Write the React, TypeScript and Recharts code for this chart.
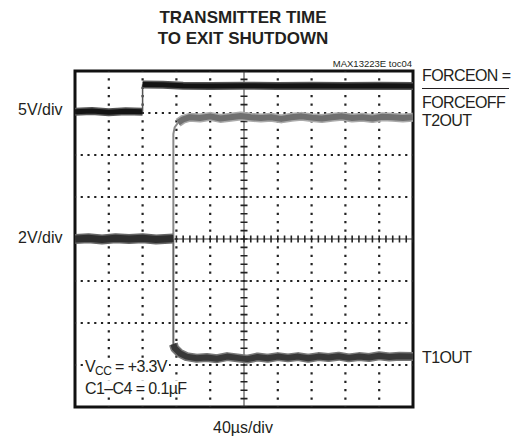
import React from "react";
import { LineChart, Line, XAxis, YAxis, ReferenceLine, ReferenceArea } from "recharts";

// scope screen is 10 x 8 divisions, values are in divisions (0 = centre line)
const X_DIVS = [0, 10];
const Y_DIVS = [-4, 4];
const xGrid = [1, 2, 3, 4, 6, 7, 8, 9];
const yGrid = [-3, -2, -1, 1, 2, 3];

// FORCEON = FORCEOFF (5V/div)
const forceLow = [
  { x: 0, y: 3.03 }, { x: 0.5, y: 3.05 }, { x: 1.0, y: 3.02 }, { x: 1.5, y: 3.04 }, { x: 2.0, y: 3.03 },
];
const forceEdge = [{ x: 2.0, y: 3.03 }, { x: 2.0, y: 3.68 }];
const forceHigh = [
  { x: 2.0, y: 3.68 }, { x: 2.6, y: 3.67 }, { x: 3.2, y: 3.65 }, { x: 4.0, y: 3.64 }, { x: 5.0, y: 3.65 },
  { x: 6.0, y: 3.64 }, { x: 7.0, y: 3.65 }, { x: 8.0, y: 3.64 }, { x: 9.0, y: 3.65 }, { x: 10, y: 3.64 },
];

// T1OUT / T2OUT (2V/div), both sit on the centre line before enabling
const shutdownLow = [
  { x: 0, y: 0.0 }, { x: 0.4, y: 0.02 }, { x: 0.8, y: -0.01 }, { x: 1.2, y: 0.02 }, { x: 1.6, y: 0.0 },
  { x: 2.0, y: 0.02 }, { x: 2.4, y: -0.01 }, { x: 2.91, y: 0.01 },
];
const t2Edge = [{ x: 2.91, y: 0 }, { x: 2.91, y: 2.5 }, { x: 2.95, y: 2.66 }, { x: 3.05, y: 2.77 }];
const t2High = [
  { x: 3.05, y: 2.77 }, { x: 3.2, y: 2.85 }, { x: 3.4, y: 2.9 }, { x: 3.7, y: 2.88 }, { x: 4.0, y: 2.92 },
  { x: 4.3, y: 2.87 }, { x: 4.6, y: 2.9 }, { x: 4.9, y: 2.93 }, { x: 5.2, y: 2.9 }, { x: 5.5, y: 2.88 },
  { x: 5.8, y: 2.9 }, { x: 6.1, y: 2.86 }, { x: 6.4, y: 2.9 }, { x: 6.7, y: 2.92 }, { x: 7.0, y: 2.89 },
  { x: 7.3, y: 2.87 }, { x: 7.6, y: 2.9 }, { x: 7.9, y: 2.92 }, { x: 8.2, y: 2.88 }, { x: 8.5, y: 2.9 },
  { x: 8.8, y: 2.87 }, { x: 9.1, y: 2.91 }, { x: 9.4, y: 2.9 }, { x: 9.7, y: 2.88 }, { x: 10, y: 2.9 },
];
const t1Edge = [{ x: 2.91, y: 0 }, { x: 2.91, y: -2.5 }];
const t1Low = [
  { x: 2.91, y: -2.5 }, { x: 2.95, y: -2.6 }, { x: 3.1, y: -2.72 }, { x: 3.3, y: -2.8 }, { x: 3.6, y: -2.84 },
  { x: 3.9, y: -2.82 }, { x: 4.2, y: -2.85 }, { x: 4.5, y: -2.8 }, { x: 4.8, y: -2.83 }, { x: 5.1, y: -2.86 },
  { x: 5.4, y: -2.81 }, { x: 5.7, y: -2.84 }, { x: 6.0, y: -2.8 }, { x: 6.3, y: -2.83 }, { x: 6.6, y: -2.8 },
  { x: 6.9, y: -2.84 }, { x: 7.2, y: -2.8 }, { x: 7.5, y: -2.82 }, { x: 7.8, y: -2.79 }, { x: 8.1, y: -2.83 },
  { x: 8.4, y: -2.8 }, { x: 8.7, y: -2.82 }, { x: 9.0, y: -2.78 }, { x: 9.3, y: -2.81 }, { x: 9.6, y: -2.79 },
  { x: 10, y: -2.8 },
];

const FONT = '"Liberation Sans", Arial, sans-serif';

function Txt({ x, y, size = 16, bold = false, children, style }: any) {
  // y is the vertical centre of the capitals
  return (
    <div
      style={{
        position: "absolute",
        left: x,
        top: y - size / 2,
        fontSize: size,
        lineHeight: `${size}px`,
        fontWeight: bold ? 700 : 400,
        whiteSpace: "nowrap",
        color: "#231f20",
        ...style,
      }}
    >
      {children}
    </div>
  );
}

export default function App() {
  const trace = (data: any[], color: string, width: number, key: string) => (
    <Line
      key={key}
      data={data}
      dataKey="y"
      type="linear"
      stroke={color}
      strokeWidth={width}
      strokeLinejoin="round"
      dot={false}
      activeDot={false}
      isAnimationActive={false}
    />
  );

  return (
    <div style={{ position: "absolute", left: 0, top: 0, width: 519, height: 440, background: "#fff", fontFamily: FONT }}>
      <LineChart width={519} height={440} margin={{ top: 71, left: 75, right: 106, bottom: 33 }}>
        <XAxis dataKey="x" type="number" domain={X_DIVS} hide allowDataOverflow />
        <YAxis dataKey="y" type="number" domain={Y_DIVS} hide allowDataOverflow />

        {/* dotted graticule */}
        {xGrid.map((v) => (
          <ReferenceLine key={"gx" + v} x={v} stroke="#222" strokeWidth={2.2} strokeDasharray="2.2 6.2" strokeDashoffset={1.1} />
        ))}
        {yGrid.map((v) => (
          <ReferenceLine key={"gy" + v} y={v} stroke="#222" strokeWidth={2.2} strokeDasharray="2.2 4.56" strokeDashoffset={1.1} />
        ))}
        {/* centre axes with minor ticks */}
        <ReferenceLine x={5} stroke="#333" strokeWidth={1} />
        <ReferenceLine x={5} stroke="#222" strokeWidth={7} strokeDasharray="1.6 6.8" strokeDashoffset={0.8} />
        <ReferenceLine y={0} stroke="#333" strokeWidth={1} />
        <ReferenceLine y={0} stroke="#222" strokeWidth={7} strokeDasharray="1.6 5.16" strokeDashoffset={0.8} />

        {/* soft noise halo under each trace, then the trace core */}
        {trace(forceLow, "#555", 8, "flh")}
        {trace(forceLow, "#141414", 5, "fl")}
        {trace(forceEdge, "#555", 1.5, "fe")}
        {trace(forceHigh, "#555", 8, "fhh")}
        {trace(forceHigh, "#141414", 5, "fh")}
        {trace(t2Edge, "#8a8a8a", 2, "t2e")}
        {trace(t2High, "#aaa", 9, "t2hh")}
        {trace(t2High, "#707070", 6, "t2h")}
        {trace(t1Edge, "#666", 2, "t1e")}
        {trace(t1Low, "#777", 9, "t1lh")}
        {trace(t1Low, "#383838", 6, "t1l")}
        {trace(shutdownLow, "#666", 10, "slh")}
        {trace(shutdownLow, "#2e2e2e", 7, "sl")}

        <ReferenceArea x1={0} x2={10} y1={-4} y2={4} fill="none" stroke="#111" strokeWidth={3} />
      </LineChart>

      {/* titles */}
      <div style={{ position: "absolute", left: 93, top: 9, width: 300, textAlign: "center", fontSize: 17, lineHeight: "17px", fontWeight: 700, color: "#231f20" }}>
        TRANSMITTER TIME
      </div>
      <div style={{ position: "absolute", left: 93, top: 30, width: 300, textAlign: "center", fontSize: 17, lineHeight: "17px", fontWeight: 700, color: "#231f20" }}>
        TO EXIT SHUTDOWN
      </div>
      <div style={{ position: "absolute", left: 262, top: 59, width: 150, textAlign: "right", fontSize: 9.5, lineHeight: "10px", color: "#231f20" }}>
        MAX13223E toc04
      </div>

      {/* channel scales */}
      <Txt x={18} y={110}>5V/div</Txt>
      <Txt x={18} y={238}>2V/div</Txt>
      <Txt x={213} y={428}>40µs/div</Txt>

      {/* trace names */}
      <Txt x={422} y={76} style={{ letterSpacing: -0.6 }}>FORCEON =</Txt>
      <div style={{ position: "absolute", left: 422, top: 88, width: 87, borderTop: "1.5px solid #231f20" }} />
      <Txt x={422} y={103} style={{ letterSpacing: -0.6 }}>FORCEOFF</Txt>
      <Txt x={422} y={121} style={{ letterSpacing: -0.6 }}>T2OUT</Txt>
      <Txt x={422} y={358} style={{ letterSpacing: -0.6 }}>T1OUT</Txt>

      {/* conditions */}
      <Txt x={85} y={367} style={{ background: "#fff", letterSpacing: -0.6, paddingRight: 2 }}>
        V<span style={{ fontSize: 12, position: "relative", top: 3 }}>CC</span> = +3.3V
      </Txt>
      <Txt x={85} y={389} style={{ background: "#fff", letterSpacing: -0.6, paddingRight: 2 }}>
        C1–C4 = 0.1µF
      </Txt>
    </div>
  );
}
